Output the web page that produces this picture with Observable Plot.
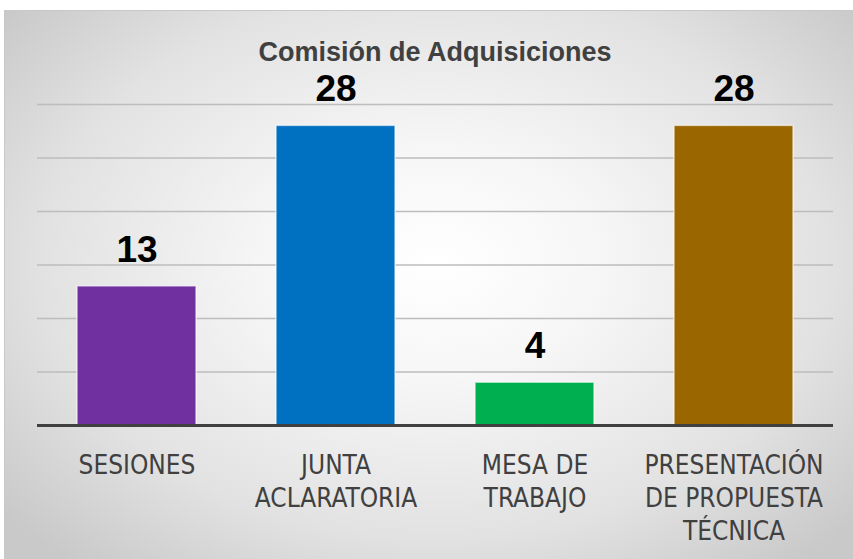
<!DOCTYPE html>
<html>
<head>
<meta charset="utf-8">
<script src="https://cdn.jsdelivr.net/npm/d3@7"></script>
<script src="https://cdn.jsdelivr.net/npm/@observablehq/plot@0.6"></script>
<style>
  html, body { margin: 0; padding: 0; background: #ffffff; }
  #wrap { position: relative; width: 853px; height: 559px; overflow: hidden; }
  #panel {
    position: absolute; left: 4px; top: 10px; width: 860px; height: 560px;
    border-left: 1px solid #c8c8c8; border-top: 1px solid #c8c8c8;
    background: radial-gradient(ellipse 65% 70% at 50% 45%, #ffffff 0%, #f6f6f6 30%, #e2e2e2 70%, #c9c9c9 100%);
  }
  #title {
    position: absolute; left: 0; width: 870px; top: 39px; text-align: center;
    font-family: "Liberation Sans", Arial, sans-serif; font-weight: bold;
    font-size: 27px; line-height: 27px; color: #404040;
  }
  #chart { position: absolute; left: 0; top: 0; }
</style>
</head>
<body>
<div id="wrap">
  <div id="panel"></div>
  <div id="chart"></div>
  <div id="title">Comisión de Adquisiciones</div>
</div>
<script>
const categories = ["SESIONES", "JUNTA\nACLARATORIA", "MESA DE\nTRABAJO", "PRESENTACIÓN\nDE PROPUESTA\nTÉCNICA"];
const values = [13, 28, 4, 28];
const colors = ["#7030a0", "#0070c0", "#00b050", "#996600"];
const gridTicks = [5, 10, 15, 20, 25, 30];

const data = categories.map((c, i) => ({category: c, value: values[i], color: colors[i]}));

const chart = Plot.plot({
  width: 853,
  height: 559,
  marginTop: 104,
  marginBottom: 134,
  marginLeft: 37,
  marginRight: 20,
  style: {background: "transparent", fontFamily: "'Liberation Sans Narrow', 'DejaVu Sans Condensed', sans-serif"},
  x: {domain: categories, paddingInner: 0.4, paddingOuter: 0.2, label: null},
  y: {domain: [0, 30], label: null},
  marks: [
    Plot.ruleY(gridTicks, {stroke: "#bdbdbd", strokeWidth: 1.5}),
    Plot.barY(data, {x: "category", y: "value", fill: "color", stroke: "white", strokeOpacity: 0.6, strokeWidth: 1.5}),
    Plot.ruleY([0], {stroke: "#404040", strokeWidth: 3}),
    Plot.text(data, {x: "category", y: "value", text: d => String(d.value), dy: -36.5, lineAnchor: "middle",
      fontSize: 37, fontWeight: "bold", fill: "#000000", fontFamily: "'Liberation Sans', Arial, sans-serif"}),
    Plot.axisX({tickSize: 0, tickPadding: 25, fontSize: 26, lineHeight: 1.27, fill: "#404040", label: null}),
    Plot.axisY({ticks: [], label: null, tickSize: 0})
  ]
});
document.getElementById("chart").appendChild(chart);
</script>
</body>
</html>
